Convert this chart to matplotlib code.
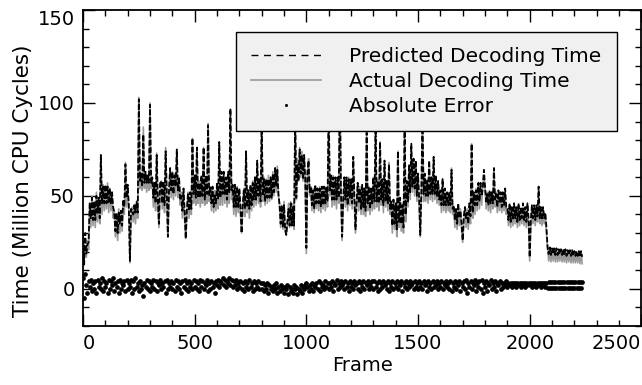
import numpy as np
import matplotlib
matplotlib.use("Agg")
import matplotlib.pyplot as plt
from matplotlib.ticker import MultipleLocator
from matplotlib.lines import Line2D

# Frame index (sampled every 5 frames)
frames = np.arange(0, 2240, 5)

# Actual decoding time (million CPU cycles)
actual = [
    24, 18, 22, 17, 26, 21, 45, 33, 50, 34, 47, 33, 52, 36, 48, 35, 72, 40, 56, 42,
    55, 43, 57, 41, 54, 42, 50, 38, 42, 28, 40, 26, 43, 30, 42, 31, 46, 40, 68, 44,
    56, 42, 14, 38, 44, 36, 45, 35, 46, 38, 103, 54, 62, 53, 87, 54, 62, 52, 61, 53,
    100, 54, 59, 44, 57, 42, 73, 45, 33, 52, 58, 43, 57, 41, 76, 48, 28, 50, 64, 49,
    63, 48, 62, 50, 74, 49, 60, 45, 52, 38, 53, 37, 27, 40, 52, 38, 51, 40, 81, 46,
    60, 45, 76, 46, 58, 44, 60, 46, 76, 45, 59, 46, 89, 47, 55, 42, 54, 41, 53, 42,
    55, 43, 78, 45, 60, 45, 61, 46, 59, 44, 60, 46, 95, 48, 55, 40, 54, 39, 55, 41,
    53, 40, 30, 42, 54, 39, 73, 41, 53, 38, 55, 42, 58, 44, 60, 45, 68, 46, 59, 44,
    90, 47, 60, 45, 59, 46, 61, 47, 60, 48, 63, 50, 65, 52, 66, 50, 46, 33, 45, 32,
    47, 31, 29, 34, 46, 33, 47, 34, 46, 32, 95, 48, 70, 58, 76, 60, 74, 58, 72, 57,
    19, 62, 70, 50, 55, 42, 54, 41, 55, 43, 54, 42, 55, 41, 54, 43, 55, 42, 54, 44,
    100, 50, 60, 44, 61, 45, 58, 43, 60, 46, 110, 48, 26, 45, 60, 44, 59, 42, 60, 45,
    58, 43, 71, 46, 30, 44, 57, 42, 55, 40, 55, 40, 54, 39, 82, 42, 55, 40, 53, 42,
    60, 43, 87, 44, 59, 42, 79, 45, 58, 41, 67, 44, 58, 42, 68, 40, 46, 30, 48, 32,
    45, 28, 74, 33, 47, 31, 46, 30, 90, 36, 58, 44, 66, 48, 76, 52, 70, 50, 68, 47,
    62, 45, 28, 50, 95, 47, 60, 47, 59, 46, 68, 48, 60, 47, 70, 48, 59, 46, 58, 45,
    52, 41, 59, 42, 52, 41, 51, 42, 52, 41, 65, 40, 44, 33, 43, 32, 44, 34, 43, 32,
    25, 35, 44, 33, 43, 32, 45, 35, 78, 38, 50, 40, 54, 42, 56, 43, 57, 45, 56, 61,
    54, 43, 52, 42, 51, 41, 52, 43, 64, 44, 52, 41, 51, 42, 52, 41, 51, 42, 52, 40,
    43, 34, 44, 33, 43, 34, 44, 35, 43, 33, 44, 34, 43, 35, 44, 34, 43, 33, 44, 35,
    15, 34, 44, 35, 43, 34, 44, 36, 53, 35, 43, 34, 42, 35, 40, 30, 22, 15, 22, 14.5,
    21.5, 15, 21.5, 14.5, 21.5, 14.5, 21, 15, 21, 14.5, 21, 14.5, 21, 14, 20.5, 14.5, 20.5, 14, 20.5, 14,
    20, 14, 20, 14, 20, 13.5, 20, 13.5,
]

# Error (predicted - actual)
error = [
    6, -5, 8, 2, -2, 4, 1, 5, -1, 3, 0, 4, -2, 5, 1, 3, 0, 6, -1, 4,
    1, 3, -2, 5, 0, 4, 2, 6, -1, 3, 1, 4, -2, 5, 0, 3, 2, 4, -1, 5,
    0, 3, 1, 5, -2, 4, 0, 6, 1, 3, -1, 4, 0, 2, -4, 3, 1, 5, 0, 4,
    -1, 3, 1, 5, 0, 4, -1, 3, 2, 5, 0, 3, 1, 4, -2, 5, 0, 3, 1, 4,
    0, 3, -1, 5, 1, 4, 0, 3, -2, 4, 1, 5, 0, 3, -1, 4, 1, 3, 0, 5,
    1, 4, 0, 3, -1, 5, 1, 4, 0, 3, 2, 5, -1, 3, 0, 4, 1, 3, -2, 4,
    2, 5, 1, 4, 3, 6, 2, 5, 1, 4, 3, 6, 2, 5, 1, 4, 2, 5, 0, 3,
    1, 4, 0, 3, -1, 4, 1, 3, 0, 5, 1, 3, -1, 4, 0, 3, 1, 4, 0, 3,
    0, 3, -1, 2, 0, 3, -2, 2, 0, 1, -1, 2, 0, 3, -2, 1, -1, 2, 0, 1,
    -2, 1, 0, 2, -3, 1, -1, 0, -2, 2, 0, 1, -3, 0, -1, 2, -2, 1, 0, 2,
    3, 1, -1, 2, 0, 3, -1, 2, 1, 3, 0, 4, -1, 3, 1, 2, 0, 4, 1, 3,
    0, 3, 1, 4, -1, 3, 2, 5, 0, 3, 1, 4, 2, 3, 0, 4, 1, 3, -1, 4,
    1, 3, 0, 4, 2, 3, 0, 4, -1, 3, 1, 4, 0, 3, 2, 4, 0, 3, 1, 4,
    0, 4, 1, 3, -1, 4, 0, 3, 1, 4, 2, 3, 0, 4, -1, 3, 1, 4, 0, 3,
    1, 4, 0, 3, 2, 4, -1, 3, 1, 4, 0, 3, 1, 4, 2, 3, 0, 4, 1, 3,
    0, 4, 1, 3, 0, 4, 2, 3, -1, 4, 1, 3, 0, 4, 1, 3, 2, 4, 0, 3,
    1, 4, 0, 3, 2, 4, 1, 3, 0, 4, -1, 3, 1, 4, 0, 3, 2, 4, -1, 3,
    1, 4, 0, 5, -2, 3, 1, 4, 0, 3, 2, 5, -1, 3, 1, 4, 0, 5, -2, 3,
    1, 4, -1, 3, 2, 5, 0, 3, 1, 4, -1, 3, 2, 4, 0, 3, 1, 3, 2, 4,
    1, 3, 2, 3, 1, 3, 2, 3, 1, 3, 2, 3, 1, 3, 2, 3, 1, 3, 2, 3,
    2, 3, 1, 3, 2, 3, 1, 3, 2, 3, 1, 3, 2, 3, 1, 3, 0.3, 3.7, 0.3, 3.7,
    0.3, 3.7, 0.3, 3.7, 0.3, 3.7, 0.3, 3.7, 0.3, 3.7, 0.3, 3.7, 0.3, 3.7, 0.3, 3.7, 0.3, 3.7, 0.3, 3.7,
    0.3, 3.7, 0.3, 3.7, 0.3, 3.7, 0.3, 3.7,
]

actual = np.array(actual, dtype=float)
error = np.array(error, dtype=float)
predicted = actual + error

x_ticks = [0, 500, 1000, 1500, 2000, 2500]
y_ticks = [0, 50, 100, 150]

plt.rcParams['font.family'] = ['DejaVu Sans']
fig = plt.figure(figsize=(6.42, 3.85), dpi=100)
ax = fig.add_axes([0.1293, 0.1532, 0.8697, 0.8208])

ax.plot(frames, actual, color='#999999', lw=1.2, zorder=2)
ax.plot(frames, predicted, color='black', lw=1.3, linestyle=(0, (3, 1.2)), zorder=3)
ax.plot(frames, error, linestyle='none', marker='o', ms=3.4, color='black',
        mec='black', mew=0, zorder=4)

ax.set_xlim(0, 2500)
ax.set_ylim(-20, 150)
ax.set_xticks(x_ticks)
ax.set_yticks(y_ticks)
ax.set_xticklabels([str(v) for v in x_ticks])
ax.set_yticklabels([str(v) for v in y_ticks])
ax.xaxis.set_minor_locator(MultipleLocator(100))
ax.yaxis.set_minor_locator(MultipleLocator(10))
ax.tick_params(which='both', direction='in', top=True, right=True, labelsize=14, width=1)
ax.tick_params(which='major', length=8.5, pad=6)
ax.tick_params(which='minor', length=4.3)

xl = ax.get_xticklabels()
xl[0].set_ha('left')
xl[-1].set_ha('right')
yl = ax.get_yticklabels()
yl[-1].set_va('top')

for s in ax.spines.values():
    s.set_linewidth(1.3)

ax.set_xlabel('Frame', fontsize=14, labelpad=2)
ax.set_ylabel('Time (Million CPU Cycles)', fontsize=15.5)
ax.yaxis.set_label_coords(-0.09, 0.46)

handles = [
    Line2D([], [], color='black', lw=1.0, linestyle=(0, (5, 4))),
    Line2D([], [], color='#999999', lw=1.2),
    Line2D([], [], linestyle='none', marker='o', ms=2.2, color='black', mew=0),
]
labels = ['Predicted Decoding Time', 'Actual Decoding Time', 'Absolute Error']
leg = ax.legend(handles, labels, loc='upper right',
                bbox_to_anchor=(0.956, 0.930), fontsize=14.5, fancybox=False,
                framealpha=1, facecolor='#f0f0f0', edgecolor='black',
                handlelength=3.5, handletextpad=1.4, labelspacing=0.3,
                borderpad=0.75, borderaxespad=0)
leg.get_frame().set_linewidth(1.0)
leg.set_zorder(10)

fig.savefig('out.png', dpi=100)
